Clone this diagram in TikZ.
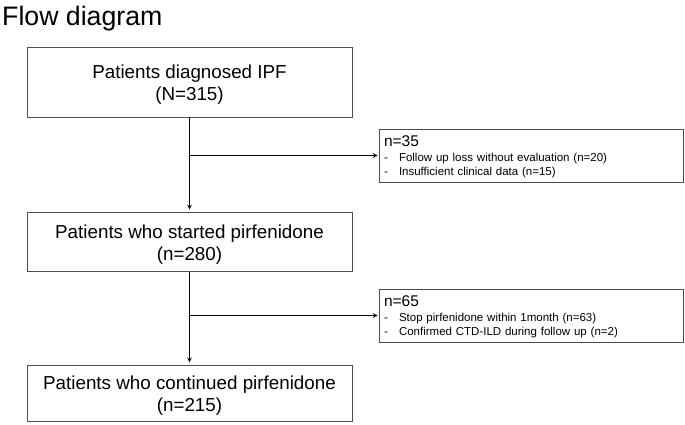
\documentclass[tikz,border=0pt]{standalone}
\usepackage{fontspec}
\setmainfont{Liberation Sans}
\usetikzlibrary{positioning,arrows}
\tikzstyle{stage} = [rectangle,
                    minimum width=325pt,
                    align = center,
                    draw=black!70,
                    line width=0.9pt,
                    inner sep=0pt,
                    font=\fontsize{18.8}{22}\selectfont]
\tikzstyle{excluded} = [rectangle,
                    text width=294pt,
                    minimum height=53pt,
                    align = left,
                    draw=black!70,
                    line width=0.9pt,
                    inner xsep=5pt,
                    inner ysep=2pt,
                    font=\fontsize{11.5}{13.5}\selectfont]
\newcommand{\lift}[1]{\rule{0pt}{#1}}
\newcommand{\exitem}[1]{\makebox[15pt][l]{-}#1}

\begin{document}
\begin{tikzpicture}[x=1pt, y=1pt,
                      >=stealth,
                      shorten >=1pt]
    \useasboundingbox (0,0) rectangle (685,-424);
    \node (t) [anchor=base west, inner sep=0pt, font=\fontsize{26.7}{30}\selectfont] at (2,-25) {Flow diagram};
    \node (0) [stage, minimum height=70pt] at (189.5,-82) {\lift{19pt}Patients diagnosed IPF\\(N=315)};
    \node (1) [below =95pt of 0] [stage, minimum height=59pt] {\lift{19pt}Patients who started pirfenidone\\(n=280)};
    \node (2) [below =93pt of 1] [stage, minimum height=56pt] {\lift{18pt}Patients who continued pirfenidone\\(n=215)};
    \node (3) [excluded] at (531,-155.5) {\lift{12.4pt}{\fontsize{15.5}{18}\selectfont n=35}\\[2pt]
      \exitem{Follow up loss without evaluation (n=20)}\\
      \exitem{Insufficient clinical data (n=15)}};
    \node (4) [excluded] at (531,-315.5) {\lift{12.4pt}{\fontsize{15.5}{18}\selectfont n=65}\\[2pt]
      \exitem{Stop pirfenidone within 1month (n=63)}\\
      \exitem{Confirmed CTD-ILD during follow up (n=2)}};
    \coordinate (j0) at (0.south |- 3.west);
    \coordinate (j1) at (1.south |- 4.west);
    \path[->, line width=1.1pt, shorten >=3pt]
      (0) edge (1)
      (1) edge (2);
    \path[->, line width=1.1pt]
      (j0) edge (3)
      (j1) edge (4);
  \end{tikzpicture}
\end{document}
